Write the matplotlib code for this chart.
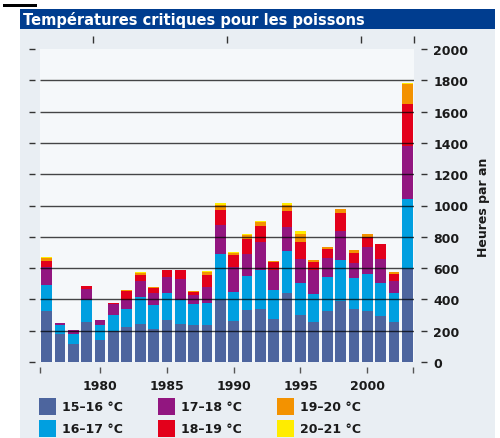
import matplotlib
matplotlib.use('Agg')
import matplotlib.pyplot as plt
from matplotlib.patches import Rectangle
import numpy as np

plt.rcParams['font.family'] = ['DejaVu Sans']

title = "Températures critiques pour les poissons"
ylabel = "Heures par an"

years = list(range(1976, 2004))
labels = ["15–16 °C", "16–17 °C", "17–18 °C", "18–19 °C", "19–20 °C", "20–21 °C"]
colors = ["#4d659e", "#009fe0", "#921680", "#e3001b", "#f39200", "#ffec00"]

s15_16 = [326, 177, 113, 253, 140, 198, 221, 240, 209, 268, 240, 236, 236, 395,
          262, 334, 340, 274, 440, 302, 253, 326, 392, 336, 325, 293, 256, 592]
s16_17 = [168, 61, 68, 143, 96, 100, 115, 173, 155, 172, 158, 132, 141, 297,
          183, 215, 247, 188, 269, 202, 179, 219, 261, 198, 237, 209, 182, 448]
s17_18 = [110, 9, 21, 72, 32, 70, 62, 102, 76, 105, 134, 62, 102, 183,
          161, 143, 177, 125, 153, 151, 153, 119, 183, 98, 173, 156, 79, 342]
s18_19 = [43, 0, 0, 15, 2, 7, 57, 43, 30, 42, 55, 15, 74, 97,
          75, 93, 104, 49, 104, 109, 53, 59, 115, 64, 64, 94, 45, 269]
s19_20 = [17, 0, 0, 0, 0, 0, 7, 10, 7, 0, 0, 6, 22, 30,
          15, 26, 26, 7, 38, 51, 11, 9, 26, 17, 17, 4, 15, 128]
s20_21 = [5, 0, 0, 0, 0, 0, 0, 4, 0, 0, 0, 0, 6, 11,
          4, 4, 6, 0, 15, 19, 0, 0, 0, 0, 4, 0, 0, 4]
series = [s15_16, s16_17, s17_18, s18_19, s19_20, s20_21]

yticks = list(range(0, 2001, 200))
grid_levels = list(range(200, 1801, 200))
xtick_labelled = [1980, 1985, 1990, 1995, 2000]

W, H = 500, 439
def fx(px):
    return px / W
def fy(py):
    return 1 - py / H

fig = plt.figure(figsize=(5, 4.39), dpi=100)
fig.patch.set_facecolor('white')

# panel background, title bar, small black line
fig.add_artist(Rectangle((fx(20), 0), fx(495) - fx(20), fy(30), transform=fig.transFigure,
                         facecolor='#e9eef3', edgecolor='none', zorder=0))
fig.add_artist(Rectangle((fx(20), fy(30)), fx(495) - fx(20), 20 / H, transform=fig.transFigure,
                         facecolor='#003d8f', edgecolor='none', zorder=0))
fig.add_artist(Rectangle((fx(3), fy(8)), fx(37) - fx(3), 3 / H, transform=fig.transFigure,
                         facecolor='black', edgecolor='none', zorder=0))
fig.text(fx(23), fy(20.5), title, color='white', fontsize=10.5, fontweight='bold',
         ha='left', va='center')

ax = fig.add_axes([fx(40), fy(363), fx(414) - fx(40), (363 - 50) / H])
ax.set_facecolor('#f5f8fa')

bottom = np.zeros(len(years))
for vals, col, lab in zip(series, colors, labels):
    ax.bar(years, vals, bottom=bottom, width=0.8, color=col, edgecolor='none',
           label=lab, zorder=2)
    bottom += np.array(vals)

ax.hlines(grid_levels, 1975.5, 2003.5, colors='black', alpha=0.72, linewidth=1, zorder=3)

ax.set_xlim(1975.5, 2003.5)
ax.set_ylim(0, 2000)

for s in ax.spines.values():
    s.set_visible(False)
ax.spines['left'].set_position(('outward', 3.6))
ax.spines['right'].set_position(('outward', 5))
ax.spines['bottom'].set_position(('outward', 3.6))
ax.spines['top'].set_position(('outward', 4.3))

ax.set_yticks(yticks)
ax.set_yticklabels([str(v) for v in yticks])
ax.tick_params(axis='y', left=True, right=True, labelleft=False, labelright=True,
               length=4, width=1, color='#333333', pad=5, labelsize=9,
               labelcolor='#1a1a1a')
for t in ax.get_yticklabels():
    t.set_fontweight('bold')

ax.set_xticks([1975.5] + xtick_labelled + [2003.4])
ax.set_xticklabels([''] + [str(y) for y in xtick_labelled] + [''])
ax.set_xticks([1975.5, 1979.5, 1989.5, 1999.5, 2003.5], minor=True)
ax.tick_params(axis='x', which='major', bottom=True, top=False, length=4.3, width=1,
               color='#555555', pad=4, labelsize=9, labelcolor='#1a1a1a')
ax.tick_params(axis='x', which='minor', bottom=False, top=True, labeltop=False,
               length=5, width=1, color='#333333')
for t in ax.get_xticklabels():
    t.set_fontweight('bold')

fig.text(fx(483), fy(207), ylabel, rotation=90, ha='center', va='center',
         fontsize=9, fontweight='bold', color='#1a1a1a')

# legend (3 columns x 2 rows, column-wise order)
col_x = [39, 158, 277]
row_y = [399, 421]
for i, (lab, col) in enumerate(zip(labels, colors)):
    c, r = i // 2, i % 2
    x0, y0 = col_x[c], row_y[r]
    fig.add_artist(Rectangle((fx(x0), fy(y0 + 17)), 17 / W, 17 / H, transform=fig.transFigure,
                             facecolor=col, edgecolor='none'))
    fig.text(fx(x0 + 23), fy(y0 + 8.5), lab, fontsize=9, fontweight='bold',
             ha='left', va='center', color='#1a1a1a')

fig.savefig('out.png', dpi=100, facecolor=fig.get_facecolor())
